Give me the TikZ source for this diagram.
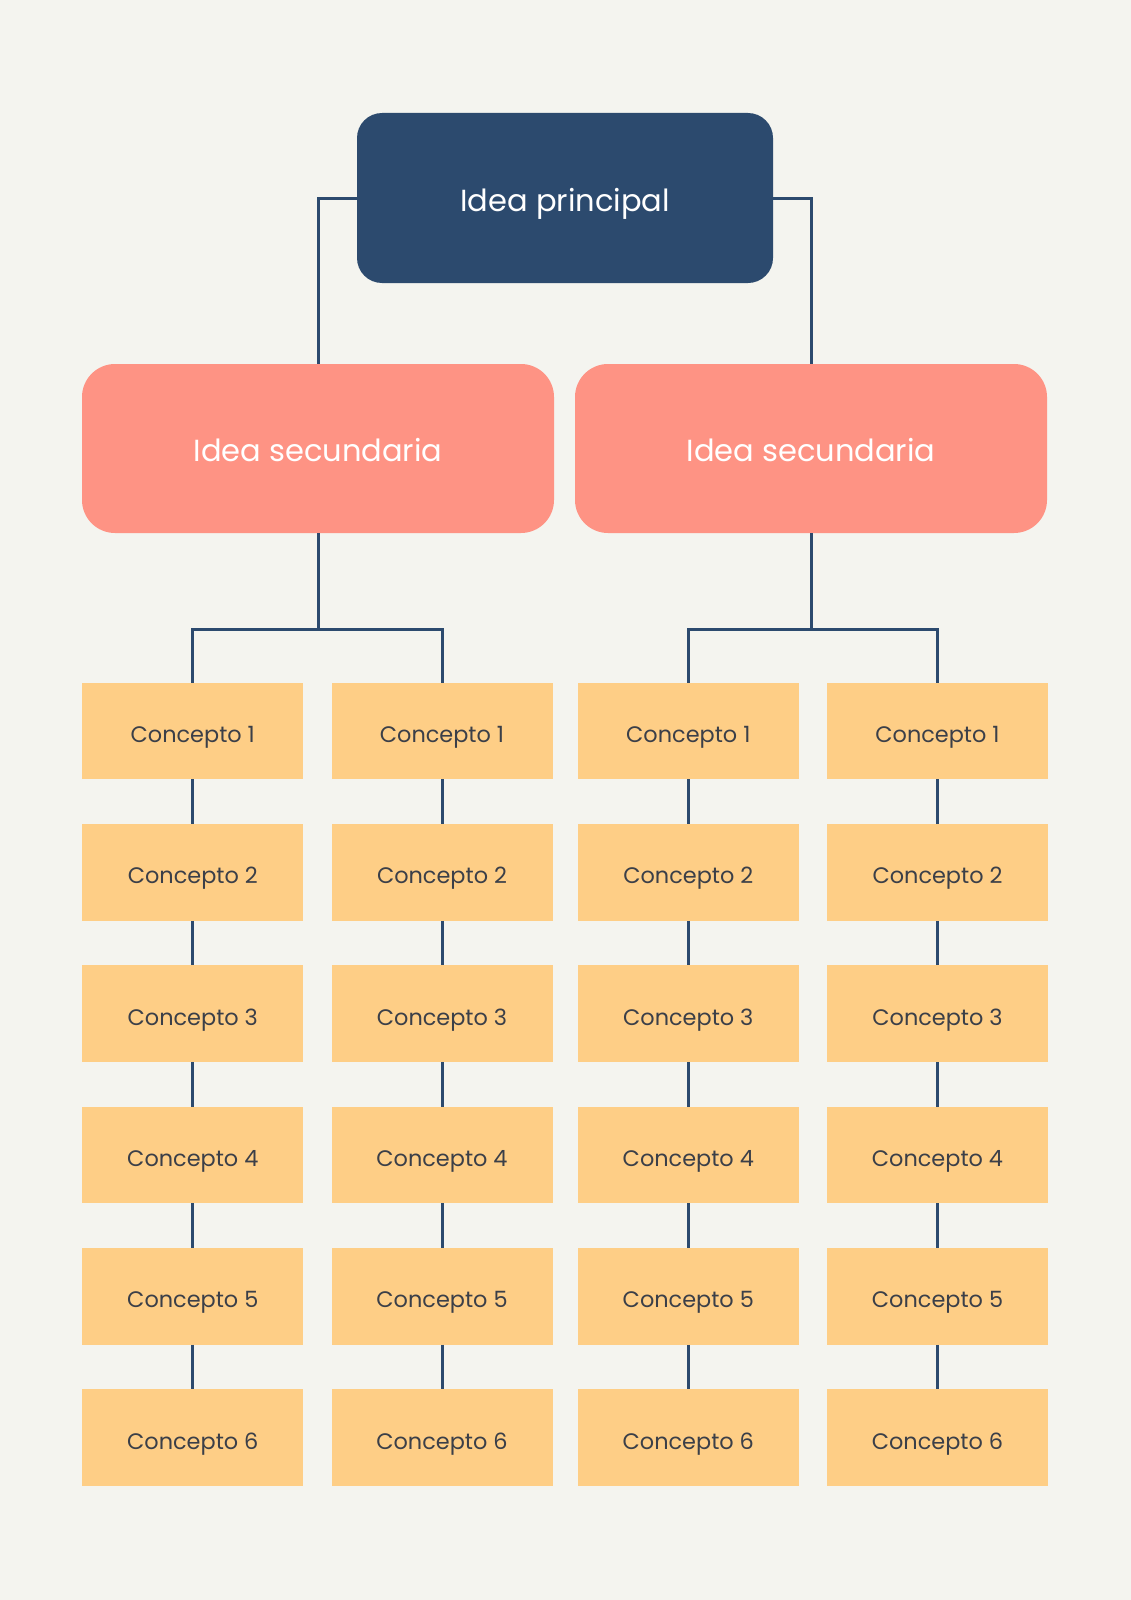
\documentclass[tikz,border=0pt]{standalone}
\usepackage{fontspec}
\setmainfont{Poppins}
\definecolor{bg}{HTML}{F4F4EF}
\definecolor{navy}{HTML}{2C4A6E}
\definecolor{salmon}{HTML}{FE9384}
\definecolor{sand}{HTML}{FECE86}
\definecolor{ink}{HTML}{3B3F48}
\tikzset{
  mainbox/.style={fill=navy, rounded corners=25pt, minimum width=416pt, minimum height=170pt, text=white, font=\fontsize{30.5}{33}\selectfont, text height=27.4pt, text depth=0pt, inner sep=0pt},
  secbox/.style={fill=salmon, rounded corners=33pt, minimum width=472pt, minimum height=169pt, text=white, font=\fontsize{30.5}{33}\selectfont, text height=25.4pt, text depth=0pt, inner sep=0pt},
  concbox/.style={fill=sand, minimum width=221pt, minimum height=96.5pt, text=ink, font=\fontsize{22.4}{25}\selectfont, text height=23.2pt, text depth=0pt, inner sep=0pt},
  link/.style={draw=navy, line width=3pt}
}
\begin{document}
\begin{tikzpicture}[x=1pt,y=-1pt]
\fill[bg] (0,0) rectangle (1131,1600);
\useasboundingbox (0,0) rectangle (1131,1600);
\node[mainbox] (main) at (565,198) {Idea principal};
\node[secbox] (s1) at (318,448.5) {Idea secundaria};
\node[secbox] (s2) at (811,448.5) {Idea secundaria};
\foreach \c/\x in {1/192.8,2/442,3/688.3,4/937.5}{
  \foreach \r/\y in {1/731,2/872.3,3/1013.6,4/1155,5/1296.3,6/1437.6}{
    \node[concbox] (c\c\r) at (\x,\y) {Concepto \r};
  }
}
\draw[link] (main.west) -| (s1.north);
\draw[link] (main.east) -| (s2.north);
\coordinate (b1) at (318,629.5);
\coordinate (b2) at (811,629.5);
\draw[link] (s1.south) -- (b1);
\draw[link] (s2.south) -- (b2);
\draw[link] (c11.north) |- (b1) -| (c21.north);
\draw[link] (c31.north) |- (b2) -| (c41.north);
\foreach \c in {1,2,3,4}{
  \foreach \r [evaluate=\r as \n using int(\r+1)] in {1,2,3,4,5}{
    \draw[link] (c\c\r.south) -- (c\c\n.north);
  }
}
\end{tikzpicture}
\end{document}
